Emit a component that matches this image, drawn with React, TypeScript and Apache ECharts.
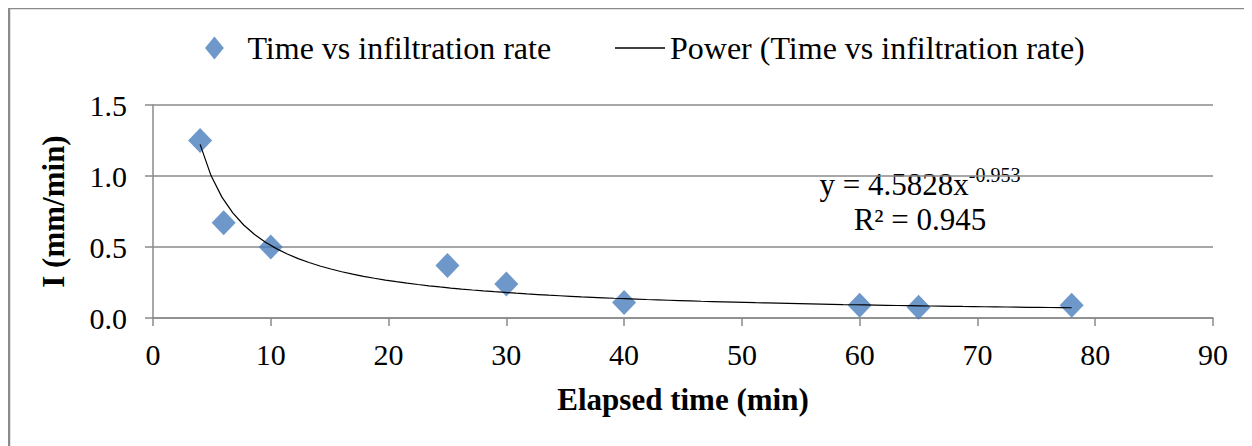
import React, { useEffect, useRef } from "react";
import * as echarts from "echarts";

const elapsedTime = [4, 6, 10, 25, 30, 40, 60, 65, 78];
const infiltrationRate = [1.25, 0.67, 0.5, 0.37, 0.24, 0.11, 0.09, 0.075, 0.09];
const xTicks = [0, 10, 20, 30, 40, 50, 60, 70, 80, 90];
const yTicks = [0, 0.5, 1.0, 1.5];
const powerCoef = 4.5828;
const powerExp = -0.953;
const rSquared = 0.945;
const seriesName = "Time vs infiltration rate";
const trendName = "Power (Time vs infiltration rate)";

const FONT = "'Liberation Serif', 'Times New Roman', serif";
const GRAY = "#8a8a8a";

export default function App() {
  const ref = useRef<HTMLDivElement>(null);
  useEffect(() => {
    if (!ref.current) return;
    const chart = echarts.init(ref.current, undefined, { renderer: "svg" });
    const xMin = elapsedTime[0];
    const xMax = elapsedTime[elapsedTime.length - 1];
    const trend: number[][] = [];
    const steps = 80;
    for (let i = 0; i <= steps; i++) {
      const x = xMin + ((xMax - xMin) * i) / steps;
      trend.push([x, powerCoef * Math.pow(x, powerExp)]);
    }
    chart.setOption({
      animation: false,
      grid: { left: 145, right: 39, top: 97, bottom: 128 },
      legend: [
        {
          data: [seriesName],
          left: 192,
          top: 19,
          itemWidth: 56,
          itemHeight: 23,
          icon: "path://M0,-1L0.82,0L0,1L-0.82,0Z",
          itemStyle: { color: "#4a7ebb" },
          textStyle: { fontFamily: FONT, fontSize: 32, color: "#000" },
        },
        {
          data: [trendName],
          left: 602,
          top: 19,
          itemWidth: 50,
          itemHeight: 23,
          icon: "path://M0,0L50,0L50,1.3L0,1.3Z",
          itemStyle: { color: "#000" },
          textStyle: { fontFamily: FONT, fontSize: 32, color: "#000" },
        },
      ],
      xAxis: {
        type: "value",
        min: xTicks[0],
        max: xTicks[xTicks.length - 1],
        interval: 10,
        name: "Elapsed time (min)",
        nameLocation: "middle",
        nameGap: 66,
        nameTextStyle: { fontFamily: FONT, fontSize: 31, fontWeight: "bold", color: "#000" },
        axisLine: { lineStyle: { color: GRAY, width: 1.5 } },
        axisTick: { show: true, length: 8, lineStyle: { color: GRAY, width: 1.5 } },
        axisLabel: { fontFamily: FONT, fontSize: 30, color: "#000", margin: 21 },
        splitLine: { show: false },
      },
      yAxis: {
        type: "value",
        min: yTicks[0],
        max: yTicks[yTicks.length - 1],
        interval: 0.5,
        name: "I (mm/min)",
        nameLocation: "middle",
        nameGap: 84,
        nameTextStyle: { fontFamily: FONT, fontSize: 31, fontWeight: "bold", color: "#000" },
        axisLine: { show: true, lineStyle: { color: GRAY, width: 1.5 } },
        axisTick: { show: true, length: 8, lineStyle: { color: GRAY, width: 1.5 } },
        axisLabel: {
          fontFamily: FONT,
          fontSize: 30,
          color: "#000",
          margin: 26,
          formatter: (v: number) => v.toFixed(1),
        },
        splitLine: { show: true, lineStyle: { color: GRAY, width: 1.5 } },
      },
      graphic: [
        { type: "line", shape: { x1: 1, y1: -1, x2: 1, y2: 440 }, style: { stroke: GRAY, lineWidth: 2.5 } },
        { type: "line", shape: { x1: 0, y1: 0, x2: 1250, y2: 0 }, style: { stroke: GRAY, lineWidth: 2.5 } },
        {
          type: "text",
          x: 912,
          y: 176,
          style: {
            text: "{b|y = " + powerCoef + "x}{s|" + powerExp + "}",
            textAlign: "center",
            textVerticalAlign: "middle",
            fontFamily: FONT,
            rich: {
              b: { fontFamily: FONT, fontSize: 31, fill: "#000", lineHeight: 32 },
              s: { fontFamily: FONT, fontSize: 20, fill: "#000", padding: [0, 0, 18, 0], lineHeight: 32 },
            },
          },
        },
        {
          type: "text",
          x: 912,
          y: 211,
          style: {
            text: "R² = " + rSquared,
            textAlign: "center",
            textVerticalAlign: "middle",
            fontFamily: FONT,
            fontSize: 31,
            fill: "#000",
          },
        },
      ],
      series: [
        {
          name: seriesName,
          type: "scatter",
          data: elapsedTime.map((t, i) => [t, infiltrationRate[i]]),
          symbol: "diamond",
          symbolSize: [24, 25],
          itemStyle: { color: "#4a7ebb" },
          z: 3,
        },
        {
          name: trendName,
          type: "line",
          data: trend,
          showSymbol: false,
          symbol: "none",
          smooth: false,
          lineStyle: { color: "#000", width: 1.2 },
          itemStyle: { color: "#000" },
          z: 4,
        },
      ],
    });
    return () => chart.dispose();
  }, []);
  return <div ref={ref} style={{ width: 1244, height: 438 }} />;
}
